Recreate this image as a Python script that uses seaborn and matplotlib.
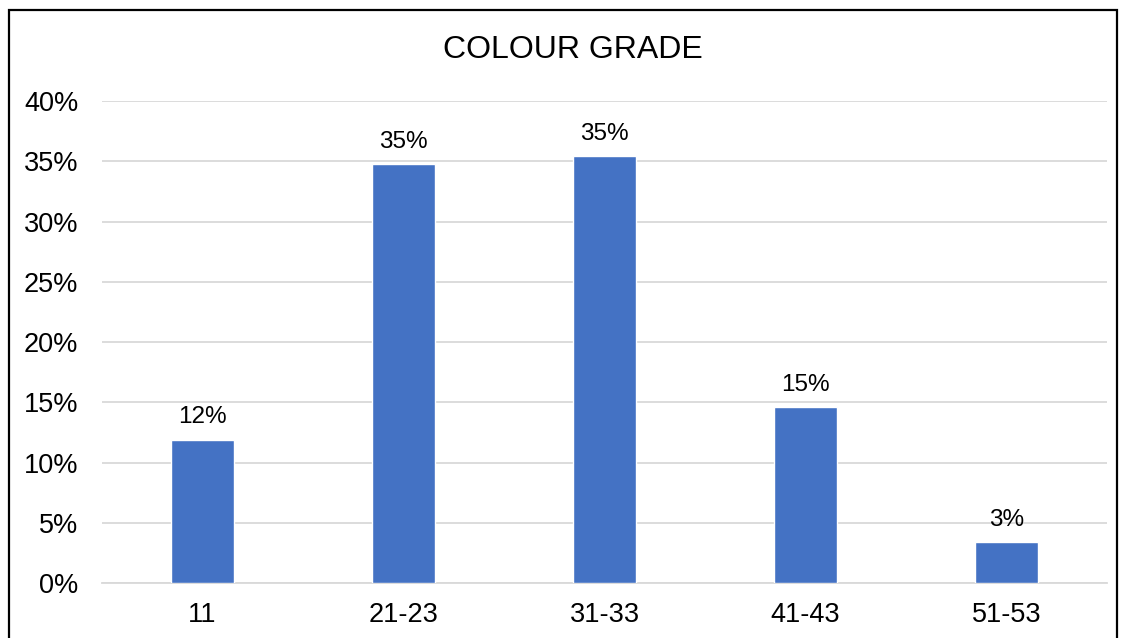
import matplotlib
matplotlib.use("Agg")
import matplotlib.pyplot as plt
from matplotlib.patches import Rectangle
from matplotlib.ticker import PercentFormatter, MultipleLocator
import seaborn as sns
import pandas as pd

grades = ["11", "21-23", "31-33", "41-43", "51-53"]
shares = [11.9, 34.8, 35.4, 14.6, 3.4]

df = pd.DataFrame({"grade": grades, "share": shares})

sns.set_style("white")
plt.rcParams["font.family"] = ["Liberation Sans", "DejaVu Sans"]
plt.rcParams["text.color"] = "black"

fig = plt.figure(figsize=(11.25, 6.38), dpi=100)
ax = fig.add_axes([102 / 1125, 1 - 583 / 638, (1107 - 102) / 1125, (583 - 101) / 638])

sns.barplot(data=df, x="grade", y="share", color="#4472C4", width=0.31,
            saturation=1, ax=ax, zorder=3)

ax.set_ylim(0, 40)
ax.set_xlim(-0.5, len(grades) - 0.5)
ax.yaxis.set_major_locator(MultipleLocator(5))
ax.yaxis.set_major_formatter(PercentFormatter(decimals=0))
ax.grid(axis="y", color="#D9D9D9", linewidth=1.3, zorder=0)
for s in ["top", "right", "left"]:
    ax.spines[s].set_visible(False)
ax.spines["bottom"].set_color("#D9D9D9")
ax.spines["bottom"].set_linewidth(1.3)
ax.tick_params(axis="both", length=0, labelsize=19.5, colors="black")
ax.tick_params(axis="y", pad=17)
ax.tick_params(axis="x", pad=14)
ax.set_xlabel("")
ax.set_ylabel("")

for i, v in enumerate(shares):
    ax.annotate(f"{v:.0f}%", (i, v), xytext=(0, 8), textcoords="offset points",
                ha="center", va="bottom", fontsize=17.5, color="black")

fig.text(573 / 1125, 1 - 50 / 638, "COLOUR GRADE", ha="center", va="center",
         fontsize=23, color="black")

fig.patches.append(Rectangle((8.5 / 1125, -0.1), (1117 - 8.5) / 1125, 1.1 - 10.5 / 638,
                             transform=fig.transFigure, fill=False,
                             edgecolor="black", linewidth=1.6))

fig.savefig("out.png", dpi=100)
